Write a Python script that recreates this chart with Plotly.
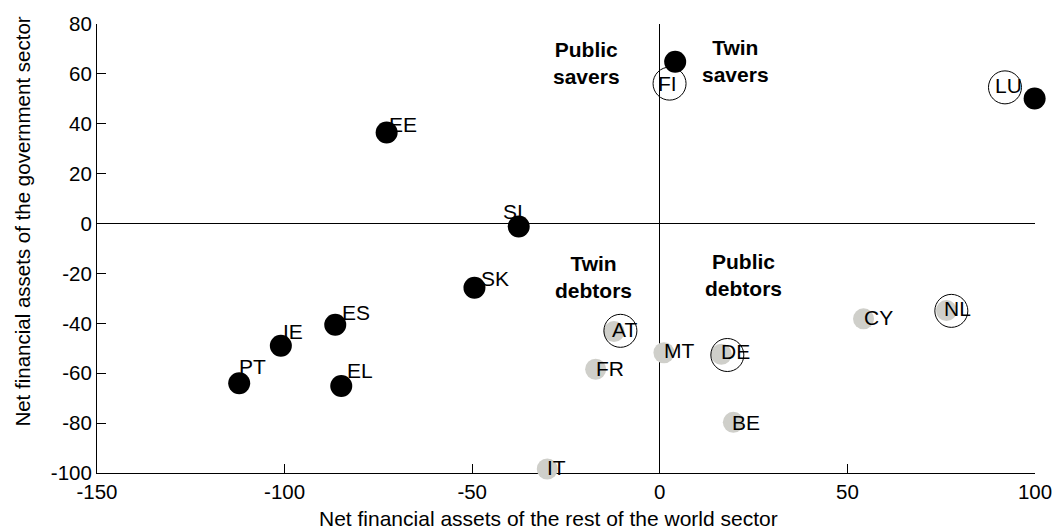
import plotly.graph_objects as go

# ── Data ──────────────────────────────────────────────────────────────────────
# Black: countries shown as filled black dots
BLACK_CODES = ['EE', 'SI', 'SK', 'ES', 'IE', 'PT', 'EL', 'FI', 'LU']
BLACK_X     = [-72.8, -37.6, -49.4, -86.5, -101.0, -112.1, -84.9, 4.1, 99.9]
BLACK_Y     = [36.5, -1.2, -25.7, -40.6, -49.0, -64.0, -65.1, 64.9, 50.1]

# Grey: countries shown as light grey dots
GREY_CODES = ['AT', 'FR', 'MT', 'DE', 'BE', 'CY', 'NL', 'IT']
GREY_X     = [-12.2, -17.1, 1.1, 16.4, 19.6, 54.3, 76.4, -30.0]
GREY_Y     = [-43.3, -58.4, -51.8, -52.4, -79.7, -38.2, -34.9, -98.4]

# Open circles (highlighted countries)
RING_CODES = ['FI', 'LU', 'AT', 'DE', 'NL']
RING_X     = [2.6, 92.0, -10.5, 18.0, 77.7]
RING_Y     = [56.1, 54.6, -43.0, -52.7, -35.0]

X_TICKS = [-150, -100, -50, 0, 50, 100]
X_TICK_TEXT = ['-150', '-100', '-50', '0', '50', '100']
Y_TICKS = [-100, -80, -60, -40, -20, 0, 20, 40, 60, 80]
Y_TICK_TEXT = ['-100', '-80', '-60', '-40', '-20', '0', '20', '40', '60', '80']

QUADRANTS = ['Public<br>savers', 'Twin<br>savers', 'Twin<br>debtors', 'Public<br>debtors']
QUAD_X    = [-19.5, 20.3, -17.7, 22.3]
QUAD_Y    = [64.3, 65.0, -21.3, -20.5]

# ── Style ─────────────────────────────────────────────────────────────────────
FONT = 'Liberation Sans, Arial, sans-serif'
GREY = '#cfcfca'

# label placement (pixel shifts) per country: (anchor series, xanchor, xshift, yshift)
LABEL_POS = {
    'EE': ('black', 'left', 2, 8),
    'SI': ('black', 'left', -16, 15),
    'SK': ('black', 'left', 7, 9),
    'ES': ('black', 'left', 7, 12),
    'IE': ('black', 'left', 2, 14),
    'PT': ('black', 'left', 0, 17),
    'EL': ('black', 'left', 6, 15),
    'FI': ('ring', 'center', 0, 0),
    'LU': ('ring', 'center', 6, 2),
    'AT': ('grey', 'left', -2, 2),
    'FR': ('grey', 'left', 0, 1),
    'MT': ('grey', 'left', 0, 2),
    'DE': ('grey', 'left', 0, 3),
    'BE': ('grey', 'left', -1, 0),
    'CY': ('grey', 'left', 0, 1),
    'NL': ('grey', 'left', -2, 2),
    'IT': ('grey', 'left', 0, 2),
}

fig = go.Figure()

fig.add_trace(go.Scatter(
    x=GREY_X, y=GREY_Y, mode='markers',
    marker=dict(color=GREY, size=21, line=dict(width=0)),
    cliponaxis=False, showlegend=False, hoverinfo='skip',
))
fig.add_trace(go.Scatter(
    x=BLACK_X, y=BLACK_Y, mode='markers',
    marker=dict(color='black', size=22, line=dict(width=0)),
    cliponaxis=False, showlegend=False, hoverinfo='skip',
))
fig.add_trace(go.Scatter(
    x=RING_X, y=RING_Y, mode='markers',
    marker=dict(symbol='circle-open', color='black', size=33,
                line=dict(color='black', width=1)),
    cliponaxis=False, showlegend=False, hoverinfo='skip',
))

series = {
    'black': dict(zip(BLACK_CODES, zip(BLACK_X, BLACK_Y))),
    'grey':  dict(zip(GREY_CODES, zip(GREY_X, GREY_Y))),
    'ring':  dict(zip(RING_CODES, zip(RING_X, RING_Y))),
}

annotations = []
for code, (src, xa, dx, dy) in LABEL_POS.items():
    px, py = series[src][code]
    annotations.append(dict(
        x=px, y=py, xref='x', yref='y', text=code, showarrow=False,
        xanchor=xa, yanchor='middle', xshift=dx - 2, yshift=dy,
        font=dict(family=FONT, size=21, color='black'),
    ))

for txt, qx, qy in zip(QUADRANTS, QUAD_X, QUAD_Y):
    annotations.append(dict(
        x=qx, y=qy, xref='x', yref='y', text=f'<b>{txt}</b>', showarrow=False,
        xanchor='center', yanchor='middle', align='center',
        font=dict(family=FONT, size=21, color='black'),
    ))

# axis titles
annotations.append(dict(
    x=0.4815, y=-0.102, xref='paper', yref='paper', showarrow=False,
    text='Net financial assets of the rest of the world sector',
    xanchor='center', yanchor='middle',
    font=dict(family=FONT, size=21, color='black'),
))
annotations.append(dict(
    x=-0.0804, y=0.559, xref='paper', yref='paper', showarrow=False,
    text='Net financial assets of the government sector', textangle=-90,
    xanchor='center', yanchor='middle',
    font=dict(family=FONT, size=20.5, color='black'),
))

axis_common = dict(
    ticks='inside', ticklen=9, tickwidth=1, tickcolor='black',
    showline=True, linecolor='black', linewidth=1, mirror=False,
    showgrid=False, zeroline=True, zerolinecolor='black', zerolinewidth=1,
    tickfont=dict(family=FONT, size=20.5, color='black'),
    ticklabeloverflow='allow', layer='below traces',
    automargin=False,   # keep the plot area exactly where the margins put it
)

fig.update_layout(
    width=1054, height=530,
    margin=dict(l=97, r=19, t=24, b=57),
    paper_bgcolor='white', plot_bgcolor='white',
    xaxis=dict(range=[-150, 100], tickvals=X_TICKS, ticktext=X_TICK_TEXT, **axis_common),
    yaxis=dict(range=[-100, 80], tickvals=Y_TICKS, ticktext=Y_TICK_TEXT, **axis_common),
    annotations=annotations,
    showlegend=False,
)

# pin the figure to the window's top-left corner (no page margin, no scrollbars)
PIN_JS = (
    "document.documentElement.style.overflow='hidden';"
    "document.body.style.margin='0';"
    "document.body.style.overflow='hidden';"
    "var gd=document.querySelector('.plotly-graph-div');"
    "gd.style.position='fixed';gd.style.left='0px';gd.style.top='0px';"
)

fig.write_html('out.html', config={'displayModeBar': False}, post_script=PIN_JS)
